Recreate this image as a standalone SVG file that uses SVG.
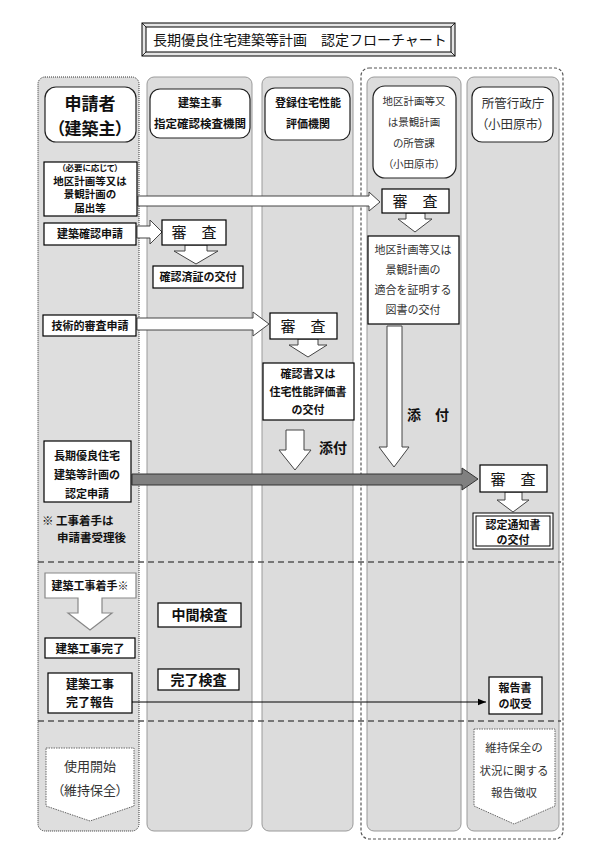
<svg xmlns="http://www.w3.org/2000/svg" width="609" height="846" viewBox="0 0 609 846">
<defs>
<style>
text{font-family:"Noto Sans CJK JP","Noto Sans CJK SC",sans-serif;fill:#111;}
.c{text-anchor:middle;}
.b{font-weight:bold;}
.p{font-feature-settings:"palt";}
.col{fill:#dcdcdc;stroke:#9a9a9a;stroke-width:1;}
.box{fill:#fff;stroke:#000;stroke-width:1.2;}
.hdr{fill:#fff;stroke:#222;stroke-width:1.2;}
.warr{fill:#fff;stroke:#444;stroke-width:1;}
.sep{stroke:#555;stroke-width:1.6;stroke-dasharray:6 4;fill:none;}
.n{fill:#333;font-weight:normal;}
</style>
<marker id="ah" viewBox="0 0 10 10" refX="10" refY="5" markerWidth="8" markerHeight="8" markerUnits="userSpaceOnUse" orient="auto"><path d="M0,1 L10,5 L0,9 z" fill="#000"/></marker>
</defs>
<rect width="609" height="846" fill="#fff"/>

<g id="title">
<rect x="142" y="23" width="313" height="33" fill="#e4e4e4" stroke="#000" stroke-width="1"/>
<path d="M142,23 L146,27 M455,23 L451,27 M142,56 L146,52 M455,56 L451,52" stroke="#000" stroke-width="0.8"/>
<rect x="146" y="27" width="305" height="25" fill="#fff" stroke="#000" stroke-width="1"/>
<text x="153" y="45" font-size="14">長期優良住宅建築等計画　認定フローチャート</text>
</g>

<g id="lanes">
<rect x="361" y="68" width="202" height="771" rx="8" fill="none" stroke="#555" stroke-width="1.2" stroke-dasharray="3 2"/>
<rect x="38" y="77" width="101" height="754" rx="7" fill="#dedede" stroke="#333" stroke-width="1" stroke-dasharray="1 1"/>
<rect class="col" x="147" y="77" width="105" height="754" rx="7"/>
<rect class="col" x="262" y="77" width="91" height="754" rx="7"/>
<rect class="col" x="367" y="77" width="94" height="754" rx="7"/>
<rect class="col" x="467" y="77" width="92" height="754" rx="7"/>
<line class="sep" x1="38" y1="562" x2="561" y2="562"/>
<line class="sep" x1="38" y1="721" x2="561" y2="721"/>
</g>

<g id="h-applicant">
<rect class="hdr" x="45" y="87" width="91" height="55" rx="11"/>
<text class="c b" x="90" y="110" font-size="17">申請者</text>
<text class="c b p" x="90" y="135" font-size="17">（建築主）</text>
</g>
<g id="h-kakunin">
<rect class="hdr" x="150" y="89" width="100" height="49" rx="10"/>
<text class="c b" x="200" y="107" font-size="11">建築主事</text>
<text class="c b" x="200" y="128" font-size="11.5">指定確認検査機関</text>
</g>
<g id="h-hyoka">
<rect class="hdr" x="265" y="88" width="85" height="52" rx="10"/>
<text class="c b" x="308" y="107" font-size="11">登録住宅性能</text>
<text class="c b" x="308" y="128" font-size="11">評価機関</text>
</g>
<g id="h-chiku">
<rect class="hdr" x="373" y="86" width="83" height="92" rx="12"/>
<text class="c n p" x="414" y="105" font-size="10.5">地区計画等又</text>
<text class="c n p" x="414" y="126" font-size="10.5">は景観計画</text>
<text class="c n p" x="414" y="147" font-size="10.5">の所管課</text>
<text class="c n p" x="414" y="168" font-size="10.5">（小田原市）</text>
</g>
<g id="h-gyosei">
<rect class="hdr" x="472" y="87" width="81" height="55" rx="10"/>
<text class="c n" x="513" y="108" font-size="12.5">所管行政庁</text>
<text class="c n p" x="513" y="129" font-size="12.5">（小田原市）</text>
</g>

<g id="connectors">
<polygon class="warr" points="138,196 369,196 369,192 380,202 369,211 369,206 138,206"/>
<polygon class="warr" points="137,226 150,226 150,220 162,232 150,244 150,238 137,238"/>
<polygon class="warr" points="137,318 253,318 253,312 269,324 253,336 253,330 137,330"/>
<polygon class="warr" points="185,245 207,245 207,251 218,251 196,264 174,251 185,251"/>
<polygon class="warr" points="406,213 425,213 425,219 432,219 415,232 398,219 406,219"/>
<polygon class="warr" points="298,339 318,339 318,345 327,345 308,357 289,345 298,345"/>
<polygon class="warr" points="505,492 522,492 522,500 529,500 513,512 497,500 505,500"/>
<polygon class="warr" points="286,430 304,430 304,450 311,450 295,470 279,450 286,450"/>
<polygon class="warr" points="387,326 402,326 402,447 409,447 394,467 379,447 387,447"/>
<polygon points="132,474 462,474 462,468 478,479 462,490 462,485 132,485" fill="#808080" stroke="#333" stroke-width="1"/>
<line x1="132" y1="702" x2="486" y2="702" stroke="#000" stroke-width="1" marker-end="url(#ah)"/>
<text class="b" x="319" y="453" font-size="14">添付</text>
<text class="b" x="407" y="420" font-size="14">添　付</text>
</g>

<g id="n-todokede">
<rect class="box" x="44" y="162" width="93" height="54"/>
<text class="c b p" x="90" y="171" font-size="8.5">（必要に応じて）</text>
<text class="c b" x="90" y="184.5" font-size="10.5">地区計画等又は</text>
<text class="c b" x="90" y="198" font-size="10.5">景観計画の</text>
<text class="c b" x="90" y="211.5" font-size="10.5">届出等</text>
</g>
<g id="n-kakunin-shinsei">
<rect class="box" x="44" y="223" width="92" height="22"/>
<text class="c b" x="90" y="238" font-size="11">建築確認申請</text>
</g>
<g id="n-shinsa1">
<rect class="box" x="162" y="220" width="64" height="25"/>
<text class="c" x="194" y="238" font-size="15">審　査</text>
</g>
<g id="n-kakuninzumi">
<rect class="box" x="153" y="266" width="90" height="22"/>
<text class="c b" x="198" y="281" font-size="11">確認済証の交付</text>
</g>
<g id="n-shinsa-chiku">
<rect class="box" x="382" y="189" width="67" height="24"/>
<text class="c" x="415" y="207" font-size="15">審　査</text>
</g>
<g id="n-tekigo">
<rect class="box" x="368" y="236" width="91" height="88"/>
<text class="c n" x="413" y="254" font-size="11">地区計画等又は</text>
<text class="c n" x="413" y="274" font-size="11">景観計画の</text>
<text class="c n" x="413" y="294" font-size="11">適合を証明する</text>
<text class="c n" x="413" y="314" font-size="11">図書の交付</text>
</g>
<g id="n-gijutsu">
<rect class="box" x="43" y="315" width="93" height="21"/>
<text class="c b" x="90" y="330" font-size="11">技術的審査申請</text>
</g>
<g id="n-shinsa2">
<rect class="box" x="270" y="313" width="67" height="26"/>
<text class="c" x="303" y="332" font-size="15">審　査</text>
</g>
<g id="n-kakuninsho">
<rect class="box" x="263" y="363" width="91" height="57"/>
<text class="c b" x="308" y="378" font-size="11">確認書又は</text>
<text class="c b" x="308" y="396" font-size="11">住宅性能評価書</text>
<text class="c b" x="308" y="414" font-size="11">の交付</text>
</g>
<g id="n-nintei-shinsei">
<rect class="box" x="44" y="441" width="87" height="61"/>
<text class="c b" x="87" y="460" font-size="11">長期優良住宅</text>
<text class="c b" x="87" y="479" font-size="11">建築等計画の</text>
<text class="c b" x="87" y="498" font-size="11">認定申請</text>
</g>
<g id="n-note">
<text class="b" x="42" y="525" font-size="11.5">※ 工事着手は</text>
<text class="b" x="57" y="542" font-size="11.5">申請書受理後</text>
</g>
<g id="n-shinsa3">
<rect class="box" x="480" y="465" width="67" height="27"/>
<text class="c" x="513" y="485" font-size="15">審　査</text>
</g>
<g id="n-tsuchi">
<rect x="473" y="513" width="80" height="36" fill="#fff" stroke="#000" stroke-width="1"/>
<rect x="476" y="516" width="74" height="30" fill="none" stroke="#000" stroke-width="1"/>
<text class="c b" x="513" y="529" font-size="11">認定通知書</text>
<text class="c b" x="513" y="544" font-size="11">の交付</text>
</g>
<g id="n-chakushu">
<polygon points="45,573 136,573 136,598 102,598 102,613 112,613 90,630 68,613 78,613 78,598 45,598" fill="#fff" stroke="#888" stroke-width="1.2"/>
<text class="c b" x="90" y="590" font-size="11">建築工事着手※</text>
</g>
<g id="n-kanryo">
<rect class="box" x="45" y="638" width="90" height="20"/>
<text class="c b" x="90" y="653" font-size="11.5">建築工事完了</text>
</g>
<g id="n-kanryo-hokoku">
<rect class="box" x="48" y="673" width="84" height="40"/>
<text class="c b" x="90" y="689" font-size="12">建築工事</text>
<text class="c b" x="90" y="707" font-size="12">完了報告</text>
</g>
<g id="n-chukan">
<rect class="box" x="158" y="603" width="83" height="24"/>
<text class="c b" x="199.5" y="620" font-size="14">中間検査</text>
</g>
<g id="n-kanryo-kensa">
<rect class="box" x="158" y="669" width="81" height="21"/>
<text class="c b" x="198.5" y="685" font-size="14">完了検査</text>
</g>
<g id="n-hokokusho">
<rect class="box" x="489" y="677" width="53" height="37"/>
<text class="c b" x="515" y="692" font-size="11">報告書</text>
<text class="c b" x="515" y="708" font-size="11">の収受</text>
</g>
<g id="n-shiyo">
<polygon points="46,748 134,748 134,806 90,821 46,806" fill="#fff" stroke="#666" stroke-width="1" stroke-dasharray="1.5 1"/>
<text class="c n" x="90" y="771" font-size="13">使用開始</text>
<text class="c n p" x="90" y="795" font-size="13">（維持保全）</text>
</g>
<g id="n-iji">
<polygon points="474,729 555,729 555,806 514,824 474,806" fill="#fff" stroke="#666" stroke-width="1" stroke-dasharray="1.5 1"/>
<text class="c n" x="514" y="752" font-size="11.5">維持保全の</text>
<text class="c n" x="514" y="775" font-size="11.5">状況に関する</text>
<text class="c n" x="514" y="797" font-size="11.5">報告徴収</text>
</g>
</svg>
